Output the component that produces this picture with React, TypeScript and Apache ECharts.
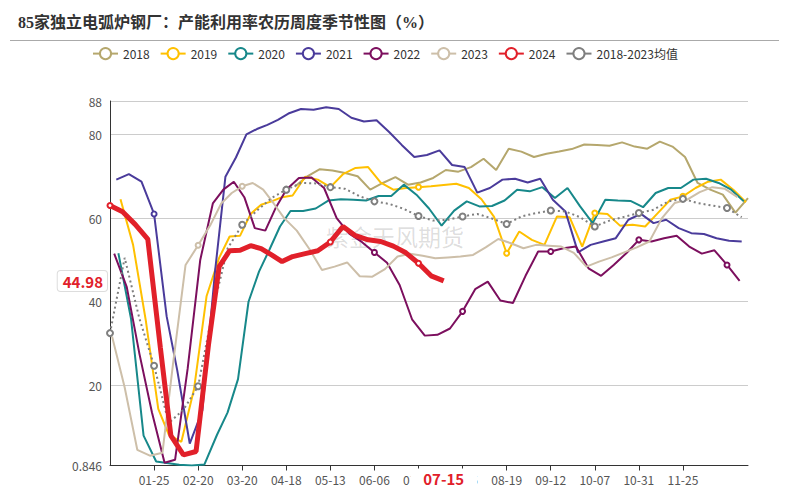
import React, { useEffect, useRef } from "react";
import * as echarts from "echarts";

// ---- data (weekly values, each year's Monday dates) ----
const seriesNames = ["2018", "2019", "2020", "2021", "2022", "2023", "2024"];
const seriesYears = [2018, 2019, 2020, 2021, 2022, 2023, 2024];
const startDates = ["04-23", "01-07", "01-06", "01-04", "01-03", "01-02", "01-01"];
const seriesColors = ["#b5a76d", "#ffc000", "#17888a", "#4a3b9b", "#7c0f5e", "#cdbfa9", "#e1202a"];

const v2018 = [67.5, 70.0, 71.7, 71.4, 70.8, 70.0, 66.8, 68.4, 69.8, 68.0, 68.5, 69.6, 71.5, 71.1, 72.2, 74.2, 71.5, 76.6, 75.9, 74.6, 75.4, 75.9, 76.5, 77.6, 77.5, 77.3, 78.1, 77.1, 76.6, 78.3, 77.1, 74.6, 68.4, 66.8, 65.6, 61.3, 64.8];
const v2019 = [64.5, 53.6, 35.7, 14.4, 8.2, 6.5, 19.0, 41.3, 50.5, 55.6, 55.8, 61.0, 63.2, 64.0, 65.0, 65.4, 69.9, 69.2, 67.4, 70.5, 72.0, 72.2, 68.5, 66.8, 67.2, 67.4, 67.6, 67.9, 68.2, 67.2, 64.5, 60.3, 51.6, 56.8, 54.8, 53.6, 60.4, 60.2, 53.2, 61.2, 61.0, 58.2, 58.4, 58.0, 61.2, 64.4, 65.2, 67.2, 68.7, 69.2, 66.8, 63.8];
const v2020 = [51.6, 36.0, 8.0, 1.8, null, 1.0, 0.846, 1.1, 8.2, 13.5, 21.5, 40.0, 47.2, 52.5, 58.0, 61.7, 61.7, 62.3, 64.2, 64.5, 64.4, 64.2, 65.3, 65.3, 68.0, 65.6, 62.3, 58.2, 61.8, 64.0, 62.8, 62.9, 64.2, 66.8, 66.4, 67.4, 64.8, 67.2, 62.8, 58.8, 64.4, 64.2, 64.1, 62.6, 66.0, 67.2, 67.2, 69.2, 69.4, 68.4, 66.8, 64.0];
const v2021 = [69.2, 70.5, 68.7, 61.0, 36.5, 23.7, 6.1, 14.0, 47.0, 69.9, 74.5, 80.0, 81.3, 82.3, 83.5, 85.0, 86.1, 85.9, 86.5, 86.1, 84.0, 83.1, 83.4, 80.6, 77.5, 74.6, 75.1, 76.2, 72.7, 72.2, 66.1, 67.2, 69.2, 69.4, 68.5, 69.4, 64.4, 61.6, 51.8, 53.6, 54.4, 55.2, 59.6, 61.0, 58.8, 59.6, 57.6, 56.4, 56.2, 55.2, 54.6, 54.4];
const v2022 = [51.5, 43.5, 27.6, 13.5, 1.5, 2.2, 24.0, 50.0, 63.5, 66.8, 68.7, 65.0, 57.6, 57.0, 62.5, 66.8, 69.6, 69.7, 67.2, 60.0, 56.3, 54.3, 51.8, 49.3, 44.0, 35.7, 31.9, 32.1, 33.6, 37.7, 43.0, 44.8, 40.3, 39.7, 46.2, 52.0, 52.0, 52.8, 53.2, 48.0, 46.2, 48.8, 51.6, 54.8, 54.4, 55.2, 55.8, 53.2, 51.5, 52.3, 48.8, 45.0];
const v2023 = [31.7, 19.5, 4.6, 3.2, 3.9, 25.0, 48.8, 53.5, 58.5, 63.5, 66.0, 67.6, 68.4, 66.8, 63.5, 60.0, 57.0, 52.6, 47.6, 48.4, 49.4, 46.1, 46.0, 47.8, 50.8, 51.5, 51.0, 50.4, 50.6, 50.8, 51.2, 53.0, 55.0, 54.0, 52.8, 53.6, 53.4, 53.2, 51.7, 48.4, 49.6, 50.6, 51.8, 53.0, 54.4, 60.0, 63.6, 64.4, 66.2, 67.4, 67.0, 65.0];
const v2024 = [63.0, 61.5, 58.5, 55.0, 29.0, 8.0, 3.4, 4.2, 30.0, 48.4, 52.2, 52.3, 53.4, 52.7, 51.2, 49.6, 50.8, 51.5, 52.2, 54.3, 58.0, 55.8, 54.8, 54.4, 53.3, 51.7, 49.2, 46.2, 44.98];

const avgName = "2018-2023均值";
const avgColor = "#7f7f7f";
const AVG_STEP = 7; // the average is sampled every 7th calendar category
const avgValues = [32.5, 50.5, 36.0, 24.7, 11.0, 14.2, 19.8, 38.0, 52.7, 58.4, 61.8, 64.8, 66.8, 68.4, 68.3, 67.4, 67.0, 65.2, 64.0, 63.4, 62.2, 60.5, 59.4, 59.6, 60.4, 61.0, 59.9, 58.6, 60.4, 61.2, 61.8, 61.6, 60.2, 58.0, 59.4, 60.3, 61.2, 62.0, 64.0, 64.6, 63.6, 63.0, 62.4, 60.2];

const LABEL_EVERY = 21;
const Y_MAX = 88;
const Y_SPLIT = 5;

const yearValues: (number | null)[][] = [v2018, v2019, v2020, v2021, v2022, v2023, v2024];

function pad(n: number) {
  return String(n).padStart(2, "0");
}
function weekDates(year: number, start: string, n: number): string[] {
  const [m, d] = start.split("-").map(Number);
  const out: string[] = [];
  for (let k = 0; k < n; k++) {
    const dt = new Date(Date.UTC(year, m - 1, d + 7 * k));
    out.push(pad(dt.getUTCMonth() + 1) + "-" + pad(dt.getUTCDate()));
  }
  return out;
}

const yearDates = yearValues.map((vals, i) => weekDates(seriesYears[i], startDates[i], vals.length));
const categories: string[] = Array.from(
  new Set(yearDates.flatMap((ds, i) => ds.filter((_, k) => yearValues[i][k] != null)))
).sort();

const yearData = yearValues.map((vals, i) => {
  const arr: (number | null)[] = new Array(categories.length).fill(null);
  vals.forEach((v, k) => {
    if (v != null) arr[categories.indexOf(yearDates[i][k])] = v;
  });
  return arr;
});
const avgData: (number | null)[] = new Array(categories.length).fill(null);
avgValues.forEach((v, j) => {
  avgData[j * AVG_STEP] = v;
});

const lastIdx2024 = categories.indexOf(yearDates[6][v2024.length - 1]);
const lastVal2024 = v2024[v2024.length - 1] as number;

const FONT = "'Noto Sans CJK SC', 'Noto Sans', sans-serif";

export default function App() {
  const ref = useRef<HTMLDivElement>(null);
  useEffect(() => {
    document.body.style.margin = "0";
    if (!ref.current) return;
    const chart = echarts.init(ref.current, null, { renderer: "svg" });
    const series: any[] = seriesNames.map((name, i) => ({
      name,
      type: "line",
      data: yearData[i],
      connectNulls: true,
      symbol: "emptyCircle",
      symbolSize: 5,
      z: i === 6 ? 4 : 2,
      color: seriesColors[i],
      lineStyle: { width: i === 6 ? 5 : 2, color: seriesColors[i] },
      itemStyle: { color: seriesColors[i], borderWidth: i === 6 ? 1.5 : 1.2 },
    }));
    series.push({
      name: avgName,
      type: "line",
      data: avgData,
      connectNulls: true,
      symbol: "emptyCircle",
      symbolSize: 6,
      z: 3,
      color: avgColor,
      lineStyle: { width: 2, type: [2, 3], color: avgColor },
      itemStyle: { color: avgColor, borderWidth: 1.2 },
    });

    chart.setOption({
      animation: false,
      textStyle: { fontFamily: FONT },
      title: {
        text: "85家独立电弧炉钢厂：产能利用率农历周度季节性图（%）",
        left: 13,
        top: 9,
        textStyle: {
          fontSize: 16,
          fontWeight: "bold",
          color: "#333",
          fontFamily: "'Liberation Serif', 'Noto Sans CJK SC', serif",
        },
      },
      legend: {
        top: 42,
        left: 87,
        itemGap: 10,
        itemWidth: 25,
        itemHeight: 14,
        textStyle: { color: "#333", fontSize: 12, fontFamily: FONT },
        data: [
          ...seriesNames,
          { name: avgName, lineStyle: { type: "solid" } },
        ],
      },
      grid: { left: 110, right: 41, top: 101, bottom: 24.5, outerBoundsMode: "none" },
      graphic: [
        {
          type: "line",
          shape: { x1: 10, y1: 40.5, x2: 779, y2: 40.5 },
          style: { stroke: "#aaaaaa", lineWidth: 1 },
          silent: true,
        },
        {
          type: "text",
          left: 326,
          top: 224,
          silent: true,
          z: 0,
          style: {
            text: "紫金天风期货",
            fontSize: 23,
            fill: "rgba(0,0,0,0.14)",
            fontFamily: FONT,
          },
        },
      ],
      xAxis: {
        type: "category",
        data: categories,
        boundaryGap: false,
        axisLine: { lineStyle: { color: "#333", width: 1 } },
        axisTick: { show: true, interval: LABEL_EVERY - 1, length: 5, lineStyle: { color: "#333" } },
        axisLabel: {
          interval: LABEL_EVERY - 1,
          showMinLabel: false,
          showMaxLabel: false,
          color: "#555",
          fontSize: 12,
          margin: 8,
          fontFamily: FONT,
        },
        splitLine: { show: false },
        axisPointer: {
          show: true,
          status: "show",
          value: lastIdx2024,
          type: "line",
          triggerTooltip: false,
          lineStyle: { opacity: 0 },
          label: {
            show: true,
            color: "#e1202a",
            fontWeight: "bold",
            fontSize: 15,
            fontFamily: FONT,
            backgroundColor: "#fff",
            padding: [2, 13, 2, 13],
            margin: 3,
          },
        },
      },
      yAxis: {
        type: "value",
        min: "dataMin",
        max: Y_MAX,
        splitNumber: Y_SPLIT,
        axisLine: { show: true, lineStyle: { color: "#333", width: 1 } },
        axisTick: { show: false },
        axisLabel: { color: "#555", fontSize: 12, margin: 8, fontFamily: FONT },
        splitLine: { show: true, lineStyle: { color: "#cccccc", width: 1 } },
        axisPointer: {
          show: true,
          status: "show",
          value: lastVal2024,
          type: "line",
          triggerTooltip: false,
          lineStyle: { opacity: 0 },
          label: {
            show: true,
            formatter: (p: any) => Number(p.value).toFixed(2),
            color: "#e1202a",
            fontWeight: "bold",
            fontSize: 15,
            fontFamily: FONT,
            backgroundColor: "#fff",
            borderColor: "#dddddd",
            borderWidth: 1,
            padding: [3, 4, 2, 5],
            margin: 3,
          },
        },
      },
      series,
    });
    return () => chart.dispose();
  }, []);
  return <div ref={ref} style={{ width: 789, height: 490 }} />;
}
